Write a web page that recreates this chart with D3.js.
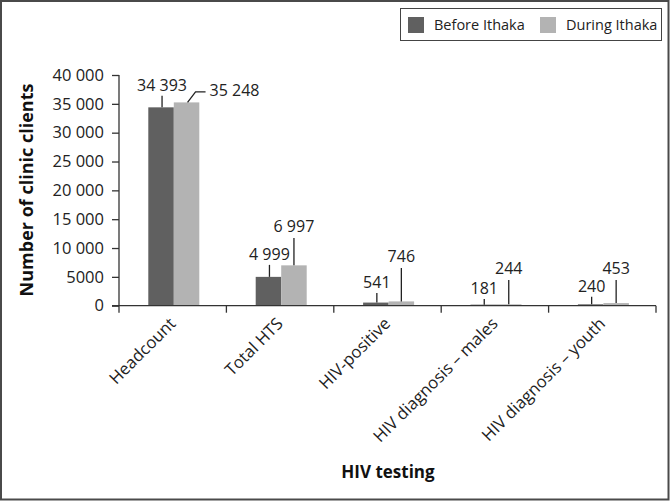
<!DOCTYPE html>
<html><head><meta charset="utf-8">
<script src="https://cdn.jsdelivr.net/npm/d3@7"></script>
<style>
body{margin:0;background:#fff;}
svg{display:block;font-family:"Open Sans",sans-serif;}
</style></head>
<body><svg id="c" width="670" height="501"></svg>
<script>
const categories = ["Headcount","Total HTS","HIV-positive","HIV diagnosis \u2013 males","HIV diagnosis \u2013 youth"];
const seriesNames = ["Before Ithaka","During Ithaka"];
const before = [34393, 4999, 541, 181, 240];
const during = [35248, 6997, 746, 244, 453];
const yTicks = [0,5000,10000,15000,20000,25000,30000,35000,40000];
const colors = ["#606060","#b3b3b3"];
// leader lengths (px) for data labels
const leaderBefore = [11.5, 12, 9.6, 5.7, 7.6];
const leaderDuring = [0, 27.4, 33.4, 24.3, 23];

const fmtLabel = v => d3.format(",")(v).replace(/,/g, " ");
const fmtTick = v => v >= 10000 ? d3.format(",")(v).replace(/,/g, " ") : String(v);

const svg = d3.select("#c");
const W = 670, H = 501;
svg.append("rect").attr("x",1).attr("y",1).attr("width",W-2.5).attr("height",H-2.5)
  .attr("fill","#fff").attr("stroke","#4a4a4a").attr("stroke-width",2);

const x0 = d3.scaleBand().domain(categories).range([119,656]).paddingInner(0).paddingOuter(0);
const x1 = d3.scaleBand().domain(seriesNames).range([29.3, 80.3]).padding(0);
const y = d3.scaleLinear().domain([0,40000]).range([305.7,75]);

const series = [before, during];
// bars
const g = svg.append("g");
seriesNames.forEach((s, si) => {
  g.selectAll(".b"+si).data(categories).join("rect")
    .attr("x", c => x0(c) + x1(s))
    .attr("y", (c,i) => y(series[si][i]))
    .attr("width", x1.bandwidth())
    .attr("height", (c,i) => y(0) - y(series[si][i]))
    .attr("fill", colors[si]);
});

// axes
const axisColor = "#333";
const yAxis = svg.append("g").attr("transform","translate(119,0)")
  .call(d3.axisLeft(y).tickValues(yTicks).tickSize(7).tickPadding(8).tickFormat(fmtTick));
yAxis.select(".domain").attr("stroke",axisColor).attr("stroke-width",1.3).attr("d","M0,75V305.7");
yAxis.selectAll(".tick line").attr("stroke",axisColor).attr("stroke-width",1.3);
yAxis.selectAll(".tick text").attr("font-size","16.5px").attr("fill","#222").attr("font-family","Open Sans");

// x axis line & ticks
const xa = svg.append("g");
xa.append("line").attr("x1",112).attr("x2",656).attr("y1",y(0)).attr("y2",y(0)).attr("stroke",axisColor).attr("stroke-width",1.3);
const bounds = categories.map(c => x0(c)).concat([x0(categories[categories.length-1]) + x0.bandwidth()]);
xa.selectAll(".xt").data(bounds).join("line")
  .attr("x1",d=>d).attr("x2",d=>d).attr("y1",y(0)).attr("y2",y(0)+7)
  .attr("stroke",axisColor).attr("stroke-width",1.3);
xa.selectAll(".xl").data(categories).join("text")
  .attr("transform", c => `translate(${x0(c)+x0.bandwidth()/2+4},${y(0)+19}) rotate(-45)`)
  .attr("text-anchor","end").attr("font-size","16.7px").attr("fill","#222").text(c => c);

// data labels
const lab = svg.append("g").attr("font-size","16px").attr("fill","#222");
categories.forEach((c,i) => {
  const bx = x0(c) + x1(seriesNames[0]) + x1.bandwidth()/2;
  const by = y(before[i]);
  const top = by - leaderBefore[i];
  lab.append("line").attr("x1",bx+1).attr("x2",bx+1).attr("y1",by).attr("y2",top).attr("stroke","#222").attr("stroke-width",1.3);
  lab.append("text").attr("x",bx+1).attr("y",top-5).attr("text-anchor","middle").text(fmtLabel(before[i]));

  const dx = x0(c) + x1(seriesNames[1]) + x1.bandwidth()/2;
  const dy = y(during[i]);
  if (i === 0) {
    lab.append("path").attr("d",`M${dx+1},${dy} L${dx+9},${dy-10.5} H${dx+19}`)
      .attr("fill","none").attr("stroke","#222").attr("stroke-width",1.3);
    lab.append("text").attr("x",dx+23).attr("y",dy-6).attr("text-anchor","start").text(fmtLabel(during[i]));
  } else {
    const t2 = dy - leaderDuring[i];
    lab.append("line").attr("x1",dx).attr("x2",dx).attr("y1",dy).attr("y2",t2).attr("stroke","#222").attr("stroke-width",1.3);
    lab.append("text").attr("x",dx).attr("y",t2-6).attr("text-anchor","middle").text(fmtLabel(during[i]));
  }
});

// axis titles
svg.append("text").attr("transform","translate(33,190) rotate(-90)").attr("text-anchor","middle")
  .attr("font-size","18px").attr("font-weight","bold").attr("fill","#111").text("Number of clinic clients");
svg.append("text").attr("x",388).attr("y",478).attr("text-anchor","middle")
  .attr("font-size","17px").attr("font-weight","bold").attr("fill","#111").text("HIV testing");

// legend
const lg = svg.append("g");
lg.append("rect").attr("x",400.5).attr("y",8.5).attr("width",261).attr("height",32).attr("fill","#fff").attr("stroke","#444").attr("stroke-width",1);
const legX = [408, 540];
seriesNames.forEach((s,i) => {
  lg.append("rect").attr("x",legX[i]).attr("y",17).attr("width",16).attr("height",16).attr("fill",colors[i]);
  lg.append("text").attr("x",legX[i]+26).attr("y",30).attr("font-size","14.5px").attr("fill","#222").text(s);
});
</script></body></html>
